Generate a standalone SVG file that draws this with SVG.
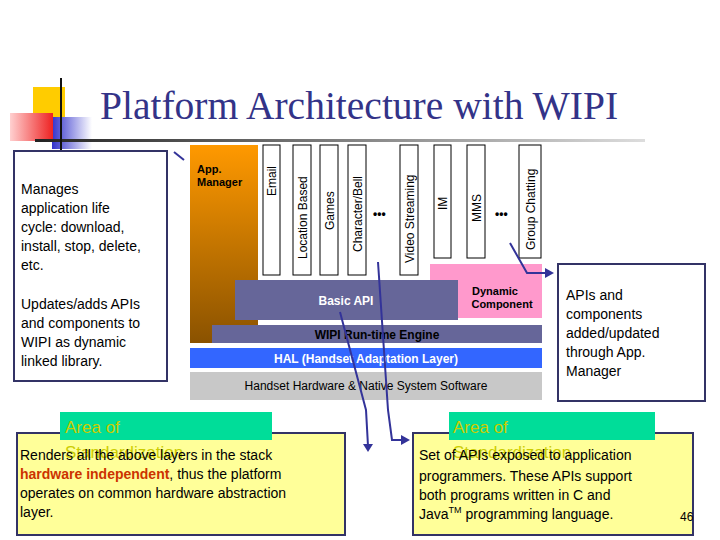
<svg xmlns="http://www.w3.org/2000/svg" width="720" height="540" viewBox="0 0 720 540">
<style>
.t{font-family:"Liberation Sans",Arial,sans-serif;fill:#000}
.col{fill:#fff;stroke:#000;stroke-width:1}
.box{stroke:#333366;stroke-width:2}
.c{fill:none;stroke:#333399;stroke-width:2}
.ar{fill:#333399}
.g{fill:#cccc00;font-family:"Liberation Sans",Arial,sans-serif;font-size:17px}
</style>
<defs>
<linearGradient id="org" x1="0" y1="0" x2="0" y2="1"><stop offset="0" stop-color="#ff9900"/><stop offset="1" stop-color="#8a5200"/></linearGradient>
<linearGradient id="red" x1="0" y1="0" x2="1" y2="0"><stop offset="0" stop-color="#ffd0d0"/><stop offset="1" stop-color="#ee2222"/></linearGradient>
<linearGradient id="blu" x1="0" y1="0" x2="1" y2="0"><stop offset="0" stop-color="#3333cc"/><stop offset="1" stop-color="#ffffff"/></linearGradient>
<linearGradient id="ln" x1="0" y1="0" x2="1" y2="0"><stop offset="0" stop-color="#222"/><stop offset="1" stop-color="#ddd"/></linearGradient>
</defs>
<rect width="720" height="540" fill="#fff"/>
<g id="deco">
<rect x="33" y="87" width="32" height="30" fill="#ffcc00"/>
<rect x="52" y="117" width="40" height="32" fill="url(#blu)"/>
<rect x="10" y="113" width="43" height="28" fill="url(#red)"/>
<rect x="35" y="139" width="610" height="3" fill="url(#ln)"/>
<rect x="60" y="78" width="2" height="72" fill="#111"/>
</g>
<text x="100" y="119" font-family="Liberation Serif,serif" font-size="39.5" fill="#333388">Platform Architecture with WIPI</text>
<g id="stack">
<rect x="190" y="145" width="68" height="198" fill="url(#org)"/>
<text class="t" x="197" y="173" font-size="11" font-weight="bold">App.</text>
<text class="t" x="197" y="186" font-size="11" font-weight="bold">Manager</text>
<rect class="col" x="263" y="145" width="17" height="130"/><text class="t" transform="translate(276,196) rotate(-90)" font-size="12">Email</text>
<rect class="col" x="293" y="145" width="18" height="130"/><text class="t" transform="translate(307,259) rotate(-90)" font-size="12">Location Based</text>
<rect class="col" x="320" y="145" width="18" height="130"/><text class="t" transform="translate(334,230) rotate(-90)" font-size="12">Games</text>
<rect class="col" x="348" y="145" width="18" height="130"/><text class="t" transform="translate(362,252) rotate(-90)" font-size="12">Character/Bell</text>
<text class="t" x="373" y="218" font-size="12" font-weight="bold">•••</text>
<rect class="col" x="400" y="145" width="18" height="130"/><text class="t" transform="translate(414,263) rotate(-90)" font-size="12">Video Streaming</text>
<rect class="col" x="434" y="145" width="17" height="113"/><text class="t" transform="translate(447,210) rotate(-90)" font-size="12">IM</text>
<rect class="col" x="467" y="145" width="18" height="113"/><text class="t" transform="translate(481,222) rotate(-90)" font-size="12">MMS</text>
<text class="t" x="495" y="218" font-size="12" font-weight="bold">•••</text>
<rect class="col" x="519" y="145" width="22" height="113"/><text class="t" transform="translate(535,250) rotate(-90)" font-size="12">Group Chatting</text>
<g id="dyn"><rect x="430" y="264" width="112" height="54" fill="#ff99cc"/>
<text class="t" x="495" y="295" font-size="11" font-weight="bold" text-anchor="middle">Dynamic</text>
<text class="t" x="502" y="308" font-size="11" font-weight="bold" text-anchor="middle">Component</text></g>
<g id="basic"><rect x="235" y="280" width="223" height="40" fill="#666699"/>
<text x="346" y="305" font-size="12" font-weight="bold" fill="#fff" font-family="Liberation Sans,Arial,sans-serif" text-anchor="middle">Basic API</text></g>
<g id="wipi"><rect x="212" y="325" width="330" height="18" fill="#666699"/>
<text class="t" x="377" y="339" font-size="12" font-weight="bold" text-anchor="middle">WIPI  Run-time Engine</text></g>
<g id="hal"><rect x="190" y="348" width="352" height="20" fill="#3366ff"/>
<text x="366" y="363" font-size="12" font-weight="bold" fill="#fff" font-family="Liberation Sans,Arial,sans-serif" text-anchor="middle">HAL (Handset Adaptation Layer)</text></g>
<g id="hw"><rect x="190" y="372" width="352" height="28" fill="#c8c8c8"/>
<text class="t" x="366" y="390" font-size="12" text-anchor="middle">Handset Hardware &amp; Native System Software</text></g>
</g>
<g id="leftbox"><rect class="box" x="14" y="151" width="153" height="230" fill="#fff"/>
<g class="t" font-size="14">
<text x="21" y="194">Manages</text><text x="21" y="213">application life</text><text x="21" y="232">cycle: download,</text><text x="21" y="251">install, stop, delete,</text><text x="21" y="270">etc.</text>
<text x="21" y="309">Updates/adds APIs</text><text x="21" y="328">and components to</text><text x="21" y="347">WIPI as dynamic</text><text x="21" y="366">linked library.</text></g></g>
<g id="rightbox"><rect class="box" x="558" y="264" width="147" height="137" fill="#fff"/>
<g class="t" font-size="14"><text x="566" y="300">APIs and</text><text x="566" y="319">components</text><text x="566" y="338">added/updated</text><text x="566" y="357">through App.</text><text x="566" y="376">Manager</text></g></g>
<g id="hwbox"><rect class="box" x="17" y="433" width="328" height="102" fill="#ffff99"/>
<rect x="60" y="412" width="212" height="28" fill="#00dd99"/>
<text class="g" x="65" y="433">Area of</text><text class="g" x="65" y="458">Standardization</text>
<g class="t" font-size="14"><text x="20" y="460">Renders all the above layers in the stack</text>
<text x="20" y="479"><tspan fill="#cc3300" font-weight="bold">hardware independent</tspan>, thus the platform</text>
<text x="20" y="498">operates on common hardware abstraction</text><text x="20" y="517">layer.</text></g></g>
<g id="apibox"><rect class="box" x="413" y="433" width="280" height="102" fill="#ffff99"/>
<rect x="449" y="412" width="206" height="28" fill="#00dd99"/>
<text class="g" x="453" y="433">Area of</text><text class="g" x="453" y="458">Standardization</text>
<g class="t" font-size="14"><text x="419" y="460">Set of APIs exposed to application</text>
<text x="419" y="481">programmers. These APIs support</text><text x="419" y="500">both programs written in C and</text>
<text x="419" y="519">Java<tspan font-size="9" dy="-6">TM</tspan><tspan dy="6"> programming language.</tspan></text></g></g>
<text class="t" x="680" y="521" font-size="12">46</text>
<g id="connectors">
<path class="c" d="M174,152 L184,160"/>
<path class="c" d="M340,312 L366,410 L368,446"/><path class="ar" d="M363,444 L373,444 L368,452Z"/>
<path class="c" d="M378,262 L388,410 L392,440 L402,440"/><path class="ar" d="M401,435 L410,440 L401,445Z"/>
<path class="c" d="M510,243 L527,273 L546,273"/><path class="ar" d="M545,268 L554,273 L545,278Z"/>
</g>
</svg>
